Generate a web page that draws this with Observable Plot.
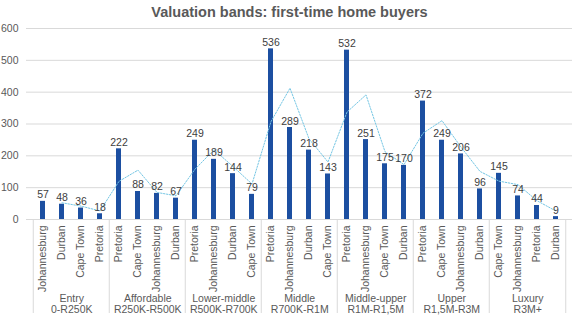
<!DOCTYPE html>
<html>
<head>
<meta charset="utf-8">
<script src="https://cdn.jsdelivr.net/npm/d3@7"></script>
<script src="https://cdn.jsdelivr.net/npm/@observablehq/plot@0.6"></script>
<style>
  body { margin: 0; background: #fff; font-family: "Liberation Sans", Arial, sans-serif; }
  #title { height: 22px; line-height: 24px; text-align: center; font-weight: bold; font-size: 14.5px; color: #595959; width: 579px; }
</style>
</head>
<body>
<div id="title">Valuation bands: first-time home buyers</div>
<div id="chart"></div>
<script>
const bandNames = ["Entry", "Affordable", "Lower-middle", "Middle", "Middle-upper", "Upper", "Luxury"];
const bandRanges = ["0-R250K", "R250K-R500K", "R500K-R700K", "R700K-R1M", "R1M-R1,5M", "R1,5M-R3M", "R3M+"];
const cities = [
  "Johannesburg", "Durban", "Cape Town", "Pretoria",
  "Pretoria", "Cape Town", "Johannesburg", "Durban",
  "Pretoria", "Johannesburg", "Durban", "Cape Town",
  "Pretoria", "Johannesburg", "Durban", "Cape Town",
  "Pretoria", "Johannesburg", "Cape Town", "Durban",
  "Pretoria", "Cape Town", "Johannesburg", "Durban",
  "Cape Town", "Johannesburg", "Pretoria", "Durban"
];
const values = [
  57, 48, 36, 18,
  222, 88, 82, 67,
  249, 189, 144, 79,
  536, 289, 218, 143,
  532, 251, 175, 170,
  372, 249, 206, 96,
  145, 74, 44, 9
];
const yTicks = [0, 100, 200, 300, 400, 500, 600];

const data = values.map((v, i) => ({key: String(i), city: cities[i], value: v, band: Math.floor(i / 4)}));
const groups = bandNames.map((_, g) => g);

const W = 579, H = 301, mL = 26, mR = 7, mT = 6, mB = 104;
const step = (W - mL - mR) / data.length;
const font = "'Liberation Sans', Arial, sans-serif";
const fs = 10.5;

const chart = Plot.plot({
  width: W, height: H,
  marginLeft: mL, marginRight: mR, marginTop: mT, marginBottom: mB,
  style: {fontFamily: font, background: "#fff"},
  x: {type: "band", domain: data.map(d => d.key), paddingInner: 0.72, paddingOuter: 0.36},
  y: {domain: [0, 600]},
  marks: [
    Plot.gridY(yTicks, {stroke: "#d9d9d9", strokeOpacity: 1}),
    Plot.axisY(yTicks, {tickSize: 0, tickPadding: 8, fontSize: fs, color: "#595959", label: null}),
    Plot.axisX({tickFormat: k => cities[+k], tickRotate: -90, tickSize: 0, tickPadding: 6, fontSize: fs, color: "#595959", label: null}),
    Plot.ruleX(groups, {x: g => String(g * 4), dx: -step / 2, stroke: "#d9d9d9", insetTop: H - mT - mB, insetBottom: -94}),
    Plot.ruleX([data.length - 1], {x: k => String(k), dx: step / 2, stroke: "#d9d9d9", insetTop: H - mT - mB, insetBottom: -94}),
    Plot.barY(data, {x: "key", y: "value", fill: "#1c4fa1"}),
    Plot.lineY(data, Plot.windowY({k: 2, anchor: "end", strict: true}, {x: "key", y: "value", stroke: "#74c6e4", strokeWidth: 1, strokeDasharray: "1.5,1.5"})),
    Plot.text(data, {x: "key", y: "value", text: d => String(d.value), lineAnchor: "bottom", dy: -3, fontSize: fs, fill: "#404040"}),
    Plot.text(groups, {x: g => String(g * 4 + 1), text: g => bandNames[g] + "\n" + bandRanges[g], frameAnchor: "bottom", dx: step / 2, dy: 75, lineAnchor: "top", lineHeight: 1.05, fontSize: fs, fill: "#595959"})
  ]
});
document.getElementById("chart").appendChild(chart);
</script>
</body>
</html>
